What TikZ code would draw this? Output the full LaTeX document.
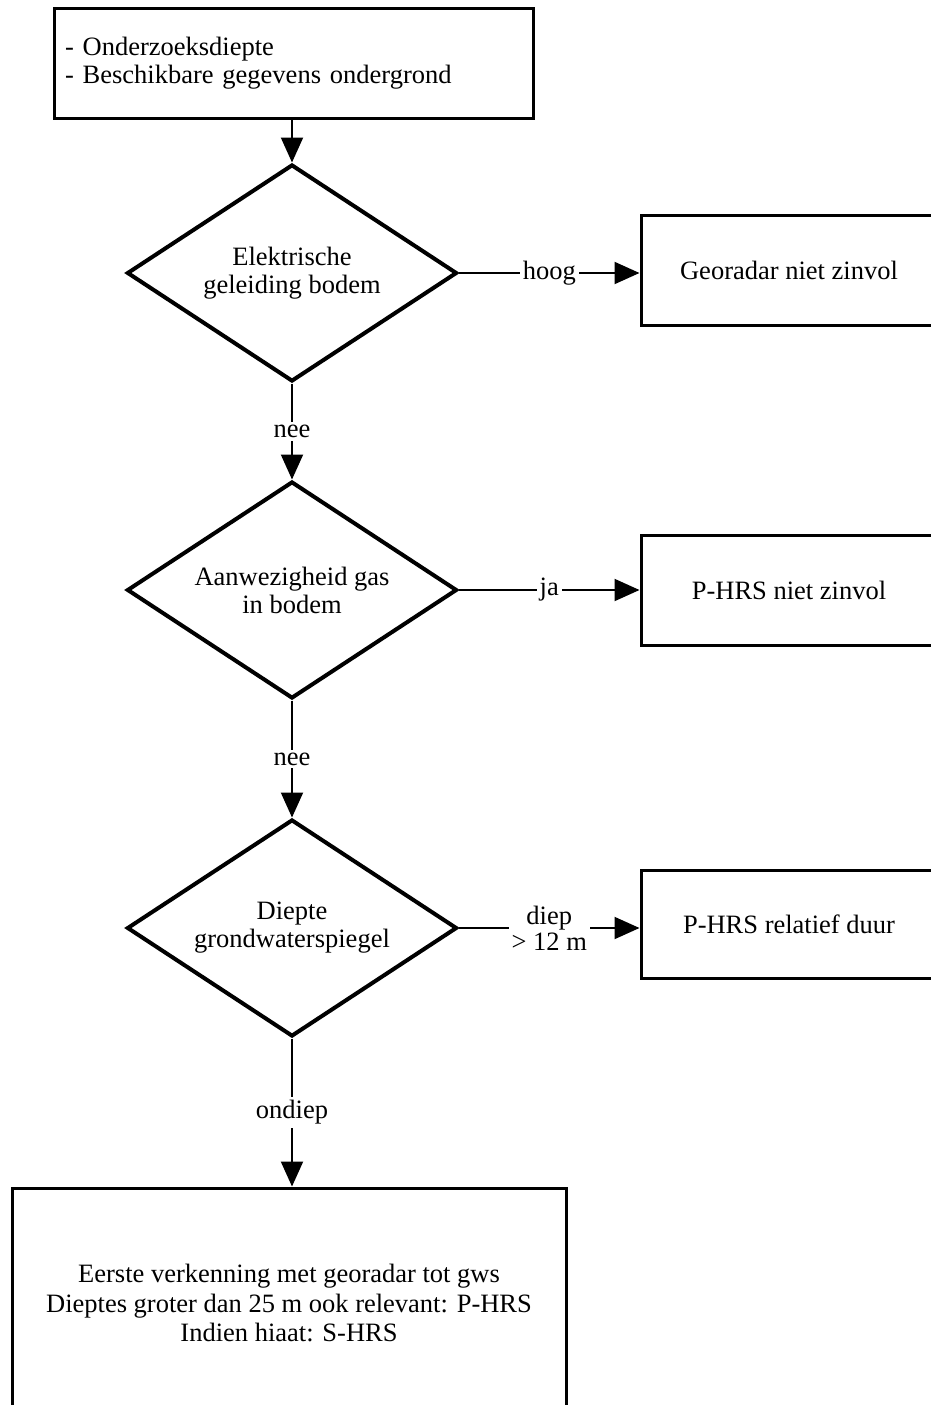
\documentclass[tikz,border=0pt]{standalone}
\usepackage{fontspec}
\setmainfont{Liberation Serif}
\usetikzlibrary{shapes.geometric,arrows.meta}
\begin{document}
\begin{tikzpicture}[x=1pt,y=-1pt,
  every node/.style={font=\fontsize{26.5}{28}\selectfont},
  box/.style={draw,line width=3pt,inner sep=0pt,align=center},
  dec/.style={draw,diamond,line width=4pt,minimum width=330pt,minimum height=217pt,inner sep=0pt,align=center,aspect=1.52},
  conn/.style={line width=2pt,-{Triangle[length=25pt,width=22pt]}},
  lbl/.style={fill=white,inner sep=3pt,align=center}
]
\useasboundingbox (0,0) rectangle (931,1405);
\clip (0,0) rectangle (931,1405);
\node[box,minimum width=479pt,minimum height=109pt,text width=457pt,align=left] (start) at (293.5,63.5) {- Onderzoeksdiepte\\- Beschikbare gegevens ondergrond};
\node[dec] (d1) at (292,273) {Elektrische\\geleiding bodem};
\node[dec] (d2) at (292,590) {Aanwezigheid gas\\in bodem};
\node[dec] (d3) at (292,928) {Diepte\\grondwaterspiegel};
\node[box,minimum width=296pt,minimum height=110pt] (b2) at (789,270) {Georadar niet zinvol};
\node[box,minimum width=296pt,minimum height=110pt] (b3) at (789,590) {P-HRS niet zinvol};
\node[box,minimum width=296pt,minimum height=108pt] (b4) at (789,924) {P-HRS relatief duur};
\node[box,minimum width=554pt,minimum height=230pt,font=\fontsize{26.5}{29.5}\selectfont] (b5) at (289,1303) {Eerste verkenning met georadar tot gws\\Dieptes groter dan 25 m ook relevant: P-HRS\\Indien hiaat: S-HRS};
\draw[conn] (start.south -| d1.north) -- (d1.north);
\draw[conn] (d1.east) -- node[lbl] {hoog} (d1.east -| b2.west);
\draw[conn] (d1.south) -- node[lbl] {nee} (d2.north);
\draw[conn] (d2.east) -- node[lbl] {ja} (d2.east -| b3.west);
\draw[conn] (d2.south) -- node[lbl] {nee} (d3.north);
\draw[conn] (d3.east) -- node[lbl,font=\fontsize{26.5}{26}\selectfont] {diep\\> 12 m} (d3.east -| b4.west);
\draw[conn] (d3.south) -- node[lbl] {ondiep} (d3.south |- b5.north);
\end{tikzpicture}
\end{document}
